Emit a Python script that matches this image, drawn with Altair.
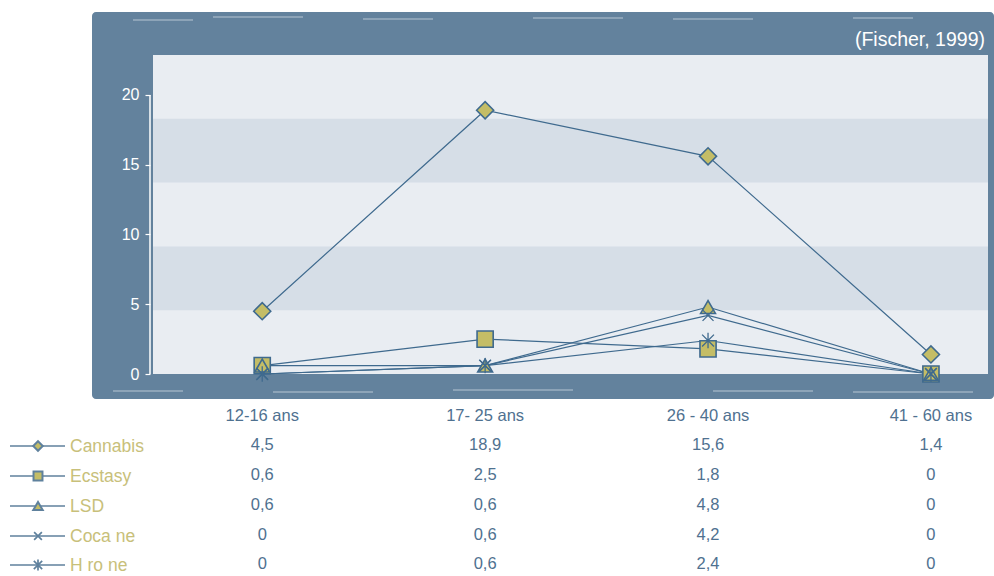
import altair as alt
import pandas as pd

# ---------------- data ----------------
categories = ["12-16 ans", "17- 25 ans", "26 - 40 ans", "41 - 60 ans"]
series = ["Cannabis", "Ecstasy", "LSD", "Coca ne", "H ro ne"]
cannabis = [4.5, 18.9, 15.6, 1.4]
ecstasy = [0.6, 2.5, 1.8, 0]
lsd = [0.6, 0.6, 4.8, 0]
cocaine = [0, 0.6, 4.2, 0]
heroine = [0, 0.6, 2.4, 0]
y_ticks = [0, 5, 10, 15, 20]
source_text = "(Fischer, 1999)"

values_by_series = [cannabis, ecstasy, lsd, cocaine, heroine]

# ---------------- styling ----------------
FONT = "Liberation Sans"
FRAME = "#63829d"
PLOT_BG = "#e9edf2"
BAND = "#d6dee7"
LINE = "#3f6a8e"
FILL = "#c4bd66"
TEXT_BLUE = "#4f7190"
LEGEND_TXT = "#c8c07a"
LEGEND_LINE = "#5f819d"

W, H = 835, 319
Y_MAX = 22.86
X_DOM = [-0.49, 3.256]

def fmt(v):
    if float(v).is_integer():
        return str(int(v))
    return str(v).replace(".", ",")

rows = []
for s, vals in zip(series, values_by_series):
    for i, (c, v) in enumerate(zip(categories, vals)):
        rows.append({"series": s, "i": i, "cat": c, "value": v, "label": fmt(v)})
df = pd.DataFrame(rows)
cat_df = pd.DataFrame({"i": list(range(len(categories))), "cat": categories})

band_h = Y_MAX / 5
bands = pd.DataFrame({"y0": [band_h, 3 * band_h], "y1": [2 * band_h, 4 * band_h]})
one = pd.DataFrame({"a": [0]})

xs = alt.Scale(domain=X_DOM, nice=False, zero=False)
ys = alt.Scale(domain=[0, Y_MAX], nice=False, zero=True)
y_axis = alt.Axis(values=y_ticks, grid=False, domain=False, tickColor="white",
                  tickSize=5, tickWidth=1.2, offset=3, labelColor="white", labelFontSize=16,
                  labelFont=FONT, labelPadding=6, title=None, zindex=1)

frame = alt.Chart(one).mark_rect(color=FRAME, cornerRadius=4).encode(
    x=alt.value(-61), x2=alt.value(841), y=alt.value(-43), y2=alt.value(344))

# light scratches on the hand-drawn frame edges
scratch = pd.DataFrame({
    "x0": [-20, 60, 210, 380, 520, 700, -40, 120, 300, 560, 700, -52],
    "x1": [40, 150, 280, 470, 600, 760, 30, 220, 420, 660, 820, -52],
    "yy": [-35, -38, -36, -37, -36, -37, 336, 337, 335, 336, 337, 40],
})
scratches = alt.Chart(scratch).mark_rule(color="white", strokeWidth=1, opacity=0.55).encode(
    x=alt.X("x0:Q", scale=None), x2="x1:Q", y=alt.Y("yy:Q", scale=None))

plot_bg = alt.Chart(one).mark_rect(color=PLOT_BG).encode(
    x=alt.value(0), x2=alt.value(W), y=alt.value(0), y2=alt.value(H))
band_layer = alt.Chart(bands).mark_rect(color=BAND).encode(
    x=alt.value(0), x2=alt.value(W),
    y=alt.Y("y0:Q", scale=ys, axis=y_axis), y2="y1:Q")
axis_rule = alt.Chart(one).mark_rule(color="white", strokeWidth=1.5).encode(
    x=alt.value(-3), y=alt.datum(0), y2=alt.datum(20))

lines = alt.Chart(df).mark_line(color=LINE, strokeWidth=1.2).encode(
    x=alt.X("i:Q", scale=xs, axis=None),
    y=alt.Y("value:Q", scale=ys, axis=y_axis),
    detail="series:N")

X_PATH = "M-1,-1L1,1M-1,1L1,-1"
AST_PATH = "M-1,-1L1,1M-1,1L1,-1M0,-1.3L0,1.3"
shapes = ["diamond", "square", "triangle-up", X_PATH, AST_PATH]
sizes = [290, 260, 220, 120, 140]
legend_sizes = [90, 80, 90, 60, 70]
stroke_w = [1.6, 1.6, 1.6, 1.3, 1.3]

point_layers = []
for s, shp, sz, sw in zip(series, shapes, sizes, stroke_w):
    point_layers.append(
        alt.Chart(df[df.series == s]).mark_point(
            shape=shp, size=sz, filled=False, fill=FILL, fillOpacity=1,
            stroke=LINE, strokeWidth=sw, opacity=1).encode(
            x=alt.X("i:Q", scale=xs, axis=None),
            y=alt.Y("value:Q", scale=ys, axis=y_axis)))

source = alt.Chart(one).mark_text(align="right", baseline="middle", color="white",
                                  fontSize=19.5, font=FONT).encode(
    x=alt.value(832), y=alt.value(-15), text=alt.value(source_text))

cat_labels = alt.Chart(cat_df).mark_text(baseline="middle", color=TEXT_BLUE,
                                         fontSize=16.5, font=FONT).encode(
    x=alt.X("i:Q", scale=xs, axis=None), y=alt.value(361), text="cat:N")

row_y = [391, 421, 451, 481, 510]
table_layers = []
for s, ry, shp, lsz, sw in zip(series, row_y, shapes, legend_sizes, stroke_w):
    sub = df[df.series == s]
    table_layers.append(alt.Chart(one).mark_rule(color=LEGEND_LINE, strokeWidth=1.5).encode(
        x=alt.value(-143), x2=alt.value(-88), y=alt.value(ry)))
    table_layers.append(alt.Chart(one).mark_point(
        shape=shp, size=lsz, filled=False, fill=FILL, fillOpacity=1,
        stroke=LEGEND_LINE, strokeWidth=sw + 0.4, opacity=1).encode(
        x=alt.value(-115), y=alt.value(ry)))
    table_layers.append(alt.Chart(one).mark_text(
        align="left", baseline="middle", color=LEGEND_TXT, fontSize=17.5, font=FONT).encode(
        x=alt.value(-83), y=alt.value(ry + 1), text=alt.value(s)))
    table_layers.append(alt.Chart(sub).mark_text(
        baseline="middle", color=TEXT_BLUE, fontSize=16.5, font=FONT).encode(
        x=alt.X("i:Q", scale=xs, axis=None), y=alt.value(ry - 1), text="label:N"))

chart = alt.layer(
    frame, scratches, plot_bg, band_layer, axis_rule, lines, *point_layers,
    source, cat_labels, *table_layers
).properties(
    width=W, height=H,
    padding={"left": 153, "top": 55, "right": 6, "bottom": 202},
    autosize=alt.AutoSizeParams(type="none"),
    background="white",
).configure_view(stroke=None)

chart.save("out.html", embed_options={"renderer": "svg", "actions": False})
